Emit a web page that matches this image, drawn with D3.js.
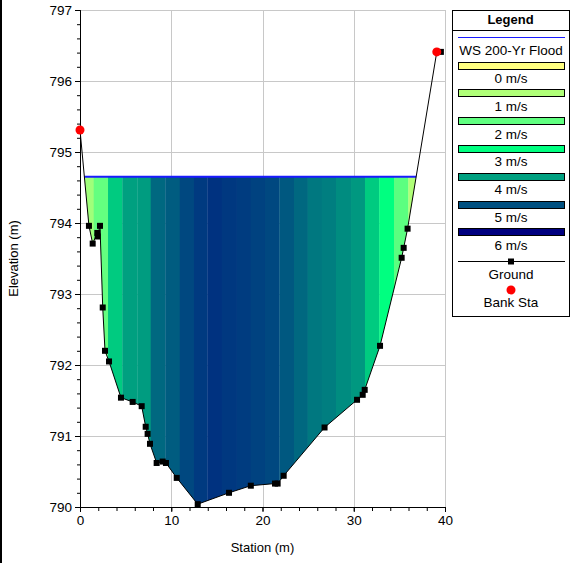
<!DOCTYPE html>
<html>
<head>
<meta charset="utf-8">
<script src="https://cdn.jsdelivr.net/npm/d3@7"></script>
<style>
  body { margin: 0; background: #fff; }
  svg { display: block; font-family: "Liberation Sans", Arial, sans-serif; }
</style>
</head>
<body>
<div id="chart"></div>
<script>
'use strict';

// ground profile (station m, elevation m)
var groundSta = [0, 0.98, 1.39, 1.9, 1.94, 2.19, 2.49, 2.74, 3.18, 4.49, 5.77, 6.76, 7.2, 7.41, 7.67, 8.4, 9.06, 9.42, 10.6, 12.9, 16.33, 18.72, 21.37, 21.66, 22.32, 26.8, 30.36, 30.98, 31.2, 32.88, 35.25, 35.47, 35.9, 39.1, 39.55];
var groundElev = [795.31, 793.96, 793.71, 793.86, 793.81, 793.96, 792.81, 792.2, 792.05, 791.54, 791.48, 791.42, 791.13, 791.03, 790.89, 790.62, 790.64, 790.62, 790.41, 790.04, 790.2, 790.3, 790.33, 790.33, 790.44, 791.12, 791.51, 791.58, 791.65, 792.27, 793.51, 793.65, 793.92, 796.41, 796.41];

var bankSta = [0, 39.1];
var bankElev = [795.31, 796.41];

var wsElev = 794.65;

// velocity distribution slices
var sliceEdges = [0, 1.5, 3.07, 4.64, 6.28, 7.75, 9.35, 10.93, 12.49, 13.95, 15.53, 17.17, 18.71, 20.27, 21.84, 23.45, 24.95, 26.49, 28.05, 29.7, 31.23, 32.8, 34.41, 35.98, 40];
var sliceVel = [1.2, 1.95, 3.55, 4.0, 4.05, 4.7, 4.85, 5.1, 5.27, 5.37, 5.3, 5.25, 5.18, 5.1, 4.9, 4.7, 4.5, 4.42, 4.25, 4.1, 3.55, 3.0, 2.05, 1.0];

var velLevels = [0, 1, 2, 3, 4, 5, 6];
var velColors = ['#ffff80', '#b0ff78', '#60ff80', '#00ff80', '#00a080', '#005080', '#000080'];

var xTicks = [0, 10, 20, 30, 40];
var yTicks = [790, 791, 792, 793, 794, 795, 796, 797];

var W = 571, H = 563;
var margin = { top: 10, left: 80, right: 126, bottom: 56 };

var x = d3.scaleLinear().domain([0, 40]).range([margin.left, W - margin.right]);
var y = d3.scaleLinear().domain([790, 797]).range([H - margin.bottom, margin.top]);
var velColor = d3.scaleLinear().domain(velLevels).range(velColors);

var svg = d3.select('#chart').append('svg')
  .attr('width', W)
  .attr('height', H);

// outer frame edge
svg.append('rect').attr('x', 0).attr('y', 0).attr('width', 2).attr('height', H).attr('fill', '#000');

// grid
var grid = svg.append('g').attr('stroke', '#c8c8c8').attr('stroke-width', 1);
grid.selectAll('.gx').data(xTicks.slice(1)).enter().append('line')
  .attr('x1', function (d) { return Math.round(x(d)) + 0.5; })
  .attr('x2', function (d) { return Math.round(x(d)) + 0.5; })
  .attr('y1', y(790)).attr('y2', y(797));
grid.selectAll('.gy').data(yTicks.slice(1)).enter().append('line')
  .attr('y1', function (d) { return Math.round(y(d)) + 0.5; })
  .attr('y2', function (d) { return Math.round(y(d)) + 0.5; })
  .attr('x1', x(0)).attr('x2', x(40));

var ground = groundSta.map(function (s, i) { return [s, groundElev[i]]; });

// clip to the channel
svg.append('clipPath').attr('id', 'chan')
  .append('path')
  .attr('d', d3.line().x(function (d) { return x(d[0]); }).y(function (d) { return y(d[1]); })(ground) + 'Z');

svg.append('g').attr('clip-path', 'url(#chan)')
  .selectAll('rect')
  .data(sliceVel)
  .enter()
  .append('rect')
  .attr('x', function (d, i) { return x(sliceEdges[i]); })
  .attr('width', function (d, i) { return x(sliceEdges[i + 1]) - x(sliceEdges[i]) + 0.3; })
  .attr('y', y(wsElev))
  .attr('height', y(790) - y(wsElev))
  .attr('fill', function (d) { return velColor(d); });

// water surface edges
function crossing(fromLeft) {
  var n = ground.length;
  for (var k = 0; k < n - 1; k++) {
    var i = fromLeft ? k : n - 2 - k;
    var a = ground[i], b = ground[i + 1];
    if ((a[1] - wsElev) * (b[1] - wsElev) <= 0) {
      var t = (wsElev - a[1]) / (b[1] - a[1]);
      return a[0] + t * (b[0] - a[0]);
    }
  }
}
var wsL = crossing(true), wsR = crossing(false);
svg.append('line')
  .attr('x1', x(wsL)).attr('x2', x(wsR))
  .attr('y1', y(wsElev)).attr('y2', y(wsElev))
  .attr('stroke', '#1a1aff').attr('stroke-width', 2);

// axes
var yAxis = svg.append('g').attr('transform', 'translate(' + x(0) + ',0)');
yAxis.call(d3.axisLeft(y).tickValues(d3.range(790, 797.01, 0.2)).tickSize(3).tickFormat(''));
yAxis.append('g').call(d3.axisLeft(y).tickValues(yTicks).tickSize(5).tickPadding(3).tickFormat(d3.format('d')));

var xAxis = svg.append('g').attr('transform', 'translate(0,' + y(790) + ')');
xAxis.call(d3.axisBottom(x).tickValues(d3.range(0, 40.01, 2)).tickSize(4).tickFormat(''));
xAxis.append('g').call(d3.axisBottom(x).tickValues(xTicks).tickSize(5).tickPadding(3).tickFormat(d3.format('d')));

svg.selectAll('.domain').attr('stroke', '#000');
svg.selectAll('.tick line').attr('stroke', '#000');
svg.selectAll('.tick text')
  .style('font-size', '13.5px')
  .style('font-family', '"Liberation Sans", Arial, sans-serif')
  .attr('fill', '#000');

svg.append('text')
  .attr('transform', 'translate(18,' + ((y(790) + y(797)) / 2) + ') rotate(-90)')
  .attr('text-anchor', 'middle')
  .style('font-size', '13px')
  .text('Elevation (m)');

svg.append('text')
  .attr('x', (x(0) + x(40)) / 2)
  .attr('y', 552)
  .attr('text-anchor', 'middle')
  .style('font-size', '13px')
  .text('Station (m)');

// ground line and points
svg.append('path')
  .datum(ground)
  .attr('fill', 'none')
  .attr('stroke', '#000')
  .attr('stroke-width', 1)
  .attr('d', d3.line().x(function (d) { return x(d[0]); }).y(function (d) { return y(d[1]); }));

svg.selectAll('.gpt')
  .data(ground)
  .enter()
  .append('rect')
  .attr('x', function (d) { return x(d[0]) - 3; })
  .attr('y', function (d) { return y(d[1]) - 3; })
  .attr('width', 6).attr('height', 6)
  .attr('fill', '#000');

svg.selectAll('.bank')
  .data(bankSta)
  .enter()
  .append('circle')
  .attr('cx', function (d) { return x(d); })
  .attr('cy', function (d, i) { return y(bankElev[i]); })
  .attr('r', 4.5)
  .attr('fill', '#ff0000');

// legend
var lg = svg.append('g');
var lx = 452, lw = 117, ly = 10, lh = 306;
lg.append('rect').attr('x', lx + 0.5).attr('y', ly + 0.5).attr('width', lw).attr('height', lh)
  .attr('fill', '#fff').attr('stroke', '#000');
lg.append('line').attr('x1', lx).attr('x2', lx + lw).attr('y1', ly + 20.5).attr('y2', ly + 20.5).attr('stroke', '#000');
lg.append('text').attr('x', lx + lw / 2).attr('y', ly + 9).attr('text-anchor', 'middle')
  .attr('dominant-baseline', 'central').style('font-size', '13px').style('font-weight', 'bold').text('Legend');

var cx = lx + lw / 2 + 0.5;
lg.append('line').attr('x1', lx + 6).attr('x2', lx + lw - 4).attr('y1', 37.5).attr('y2', 37.5)
  .attr('stroke', '#1a1aff').attr('stroke-width', 1);
lg.append('text').attr('x', cx).attr('y', 50).attr('text-anchor', 'middle')
  .attr('dominant-baseline', 'central').style('font-size', '13.5px').text('WS 200-Yr Flood');

velLevels.forEach(function (v, i) {
  var sy = 65 + i * 27.8;
  lg.append('rect').attr('x', lx + 6.5).attr('y', Math.round(sy - 3.5) + 0.5).attr('width', lw - 11).attr('height', 7)
    .attr('fill', velColor(v)).attr('stroke', '#000');
  lg.append('text').attr('x', cx).attr('y', sy + 13.5).attr('text-anchor', 'middle')
    .attr('dominant-baseline', 'central').style('font-size', '13.5px').text(v + ' m/s');
});

lg.append('line').attr('x1', lx + 6).attr('x2', lx + lw - 4).attr('y1', 261.5).attr('y2', 261.5)
  .attr('stroke', '#000');
lg.append('rect').attr('x', cx - 3).attr('y', 258.5).attr('width', 6).attr('height', 6).attr('fill', '#000');
lg.append('text').attr('x', cx).attr('y', 274).attr('text-anchor', 'middle')
  .attr('dominant-baseline', 'central').style('font-size', '13.5px').text('Ground');
lg.append('circle').attr('cx', cx).attr('cy', 290).attr('r', 4.5).attr('fill', '#ff0000');
lg.append('text').attr('x', cx).attr('y', 302).attr('text-anchor', 'middle')
  .attr('dominant-baseline', 'central').style('font-size', '13.5px').text('Bank Sta');
</script>
</body>
</html>
